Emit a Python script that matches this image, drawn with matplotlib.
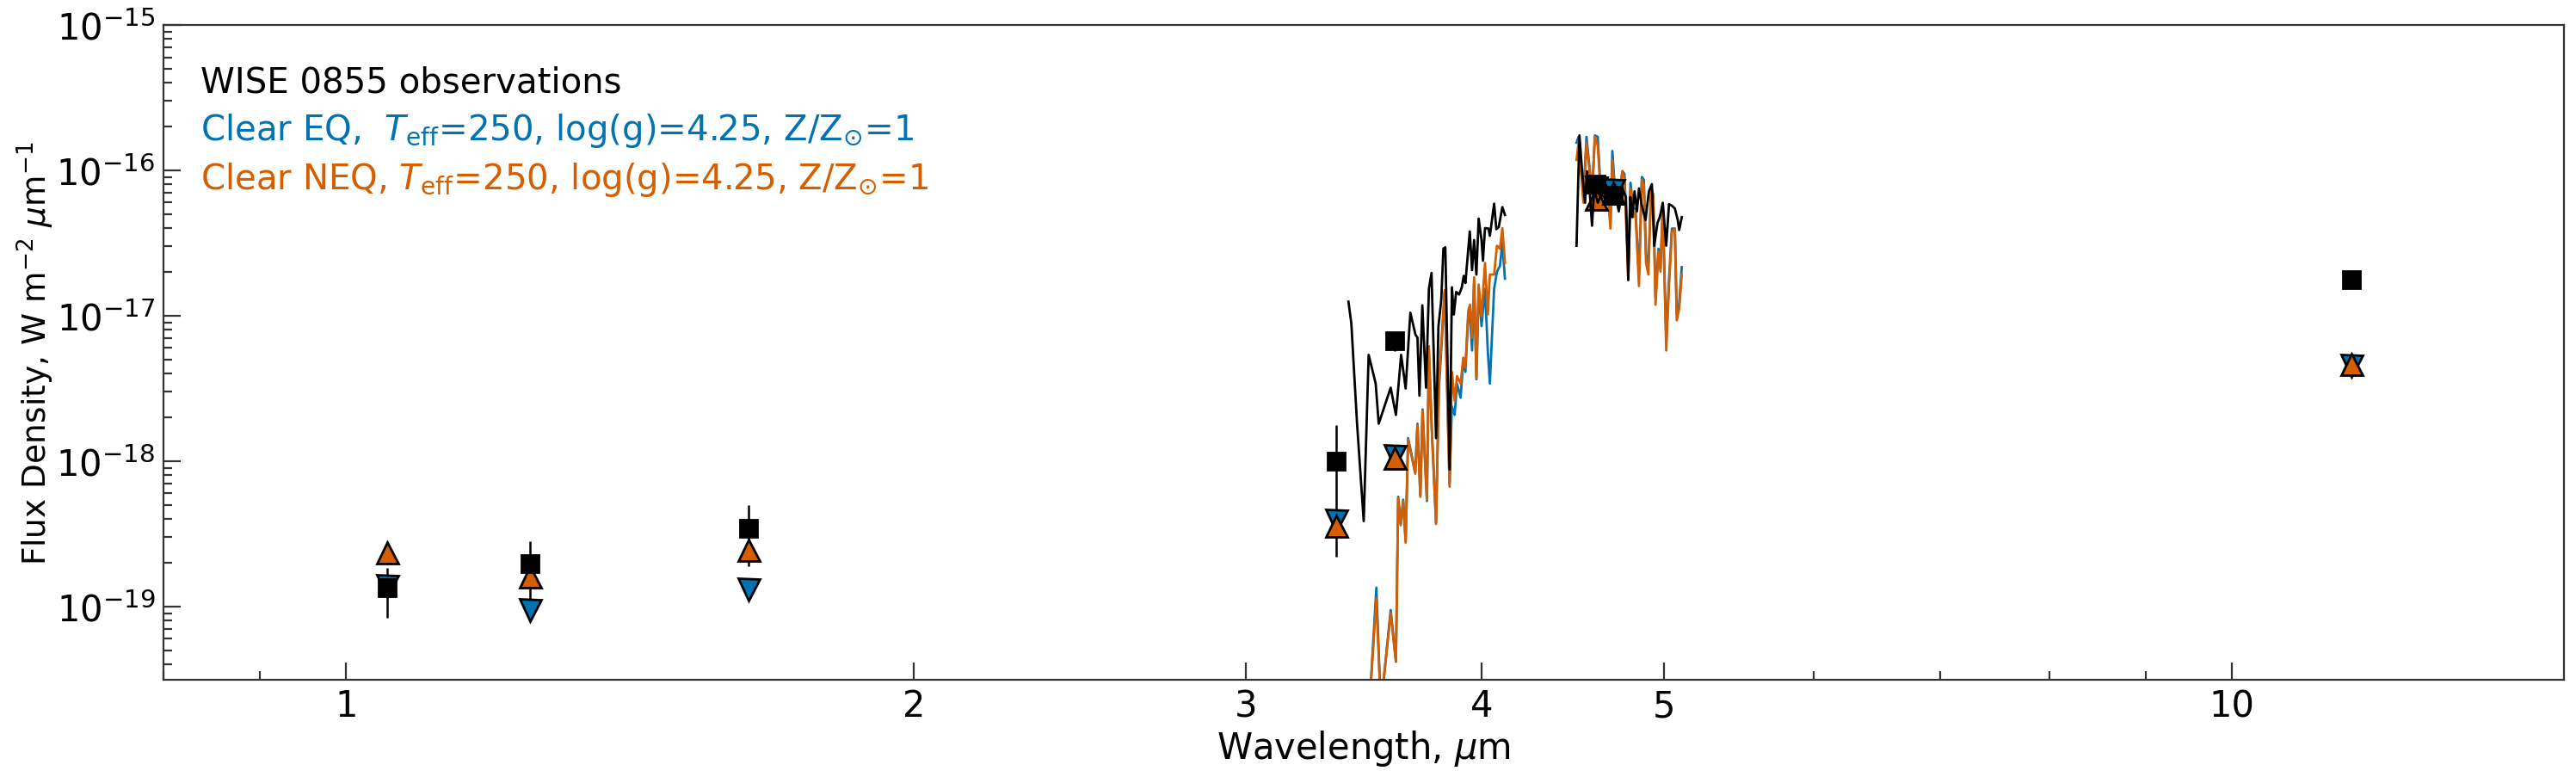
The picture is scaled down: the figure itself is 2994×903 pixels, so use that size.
import matplotlib
matplotlib.use("Agg")
import matplotlib.pyplot as plt
import numpy as np

# photometry: wavelength (micron), observed flux and error, model fluxes
phot_wl = [1.051, 1.252, 1.634, 3.35, 3.596, 4.60, 4.70, 11.57]
obs_flux = [1.34e-19, 1.98e-19, 3.45e-19, 1.0e-18, 6.73e-18, 8.03e-17, 6.74e-17, 1.77e-17]
obs_err = [0.5e-19, 0.85e-19, 1.55e-19, 0.78e-18, 1.0e-18, 4e-18, 3.5e-18, 1.5e-18]
eq_phot = [1.39e-19, 9.4e-20, 1.32e-19, 3.88e-19, 1.08e-18, 7.6e-17, 7.3e-17, 4.52e-18]
neq_phot = [2.36e-19, 1.6e-19, 2.46e-19, 3.59e-19, 1.05e-18, 6.35e-17, 7.06e-17, 4.66e-18]

# observed spectrum, short-wavelength segment
obs_wl1 = [3.400, 3.412, 3.436, 3.464, 3.485, 3.515, 3.528, 3.580, 3.603, 3.626,
           3.646, 3.667, 3.690, 3.699, 3.708, 3.721, 3.738, 3.751, 3.763, 3.784,
           3.795, 3.808, 3.818, 3.827, 3.847, 3.858, 3.867, 3.878, 3.892, 3.905,
           3.914, 3.922, 3.943, 3.954, 3.964, 3.975, 3.986, 4.000, 4.007, 4.017,
           4.034, 4.041, 4.062, 4.073, 4.085, 4.103, 4.116]
obs_fl1 = [1.25e-17, 8.89e-18, 1.81e-18, 3.87e-19, 5.39e-18, 3.42e-18, 1.81e-18, 3.20e-18, 2.08e-18, 5.39e-18,
           3.16e-18, 1.05e-17, 7.41e-18, 7.08e-18, 2.82e-18, 1.18e-17, 3.20e-18, 1.53e-17, 1.97e-17, 1.44e-18,
           8.49e-18, 1.28e-17, 2.89e-17, 2.96e-17, 8.77e-19, 1.57e-17, 1.02e-17, 1.46e-17, 1.40e-17, 1.57e-17,
           1.88e-17, 1.68e-17, 3.80e-17, 2.06e-17, 3.32e-17, 1.92e-17, 4.66e-17, 3.32e-17, 2.39e-17, 4.01e-17,
           3.98e-17, 3.55e-17, 5.90e-17, 3.94e-17, 4.07e-17, 5.59e-17, 4.94e-17]

# observed spectrum, long-wavelength segment
obs_wl2 = [4.492, 4.508, 4.524, 4.539, 4.550, 4.566, 4.578, 4.590, 4.610, 4.631,
           4.655, 4.680, 4.705, 4.730, 4.751, 4.771, 4.785, 4.797, 4.808, 4.822,
           4.836, 4.848, 4.865, 4.887, 4.907, 4.925, 4.939, 4.959, 4.973, 4.991,
           5.012, 5.029, 5.047, 5.065, 5.083, 5.092, 5.108]
obs_fl2 = [3.03e-17, 1.74e-16, 9.43e-17, 5.99e-17, 9.87e-17, 6.86e-17, 4.16e-17, 7.51e-17, 5.99e-17, 6.86e-17,
           6.26e-17, 6.86e-17, 7.51e-17, 5.22e-17, 7.51e-17, 6.55e-17, 1.76e-17, 6.55e-17, 4.77e-17, 7.18e-17,
           5.22e-17, 7.51e-17, 5.72e-17, 4.56e-17, 7.18e-17, 8.04e-17, 3.03e-17, 4.36e-17, 4.77e-17, 5.99e-17,
           3.03e-17, 5.85e-17, 5.72e-17, 5.47e-17, 4.56e-17, 3.89e-17, 4.77e-17]

# model spectra, short-wavelength segment
mod_wl1 = [3.488, 3.518, 3.537, 3.580, 3.603, 3.613, 3.624, 3.635, 3.646, 3.657,
           3.689, 3.699, 3.712, 3.722, 3.742, 3.751, 3.764, 3.784, 3.797, 3.824,
           3.847, 3.858, 3.871, 3.882, 3.899, 3.912, 3.922, 3.936, 3.944, 3.954,
           3.964, 3.975, 3.986, 4.000, 4.017, 4.031, 4.041, 4.062, 4.076, 4.091,
           4.103, 4.116]
eq_fl1 = [2e-20, 1.35e-19, 2e-20, 9.47e-20, 4.18e-20, 5.69e-19, 3.70e-19, 5.44e-19, 2.82e-19, 1.44e-18,
          8.38e-19, 1.81e-18, 5.82e-19, 2.27e-18, 5.32e-19, 5.64e-18, 1.66e-18, 3.78e-19, 3.13e-18, 1.46e-17,
          6.98e-19, 2.38e-18, 2.08e-18, 3.42e-18, 2.73e-18, 4.92e-18, 4.11e-18, 1.02e-17, 1.02e-17, 5.77e-18,
          1.68e-17, 3.66e-18, 1.53e-17, 8.49e-18, 1.53e-17, 5.64e-18, 3.42e-18, 1.53e-17, 2.01e-17, 2.20e-17,
          3.17e-17, 1.80e-17]
neq_fl1 = [2e-20, 1.14e-19, 2e-20, 9.05e-20, 4.18e-20, 5.57e-19, 3.62e-19, 5.32e-19, 2.75e-19, 1.41e-18,
           8.19e-19, 1.77e-18, 5.69e-19, 2.22e-18, 5.44e-19, 6.18e-18, 1.73e-18, 3.70e-19, 3.42e-18, 1.50e-17,
           6.67e-19, 4.11e-18, 2.61e-18, 3.84e-18, 3.42e-18, 5.15e-18, 4.40e-18, 1.09e-17, 1.19e-17, 7.08e-18,
           1.84e-17, 3.75e-18, 1.64e-17, 9.95e-18, 2.31e-17, 1.02e-17, 1.92e-17, 1.92e-17, 3.03e-17, 2.89e-17,
           4.01e-17, 2.31e-17]

# model spectra, long-wavelength segment
mod_wl2 = [4.492, 4.503, 4.519, 4.530, 4.547, 4.566, 4.578, 4.594, 4.610, 4.623,
           4.647, 4.672, 4.682, 4.693, 4.705, 4.730, 4.751, 4.763, 4.785, 4.798,
           4.814, 4.827, 4.848, 4.865, 4.877, 4.890, 4.904, 4.921, 4.933, 4.947,
           4.965, 4.977, 4.991, 5.012, 5.029, 5.047, 5.065, 5.077, 5.092, 5.108]
eq_fl2 = [1.55e-16, 1.70e-16, 9.43e-17, 6.55e-17, 1.70e-16, 9.87e-17, 6.86e-17, 1.74e-16, 1.70e-16, 8.61e-17,
          9.01e-17, 6.55e-17, 4.36e-17, 1.36e-16, 8.23e-17, 6.55e-17, 9.87e-17, 9.43e-17, 2.11e-17, 8.23e-17,
          5.47e-17, 5.47e-17, 1.92e-17, 9.01e-17, 8.61e-17, 2.64e-17, 2.31e-17, 7.51e-17, 6.86e-17, 1.34e-17,
          2.89e-17, 2.11e-17, 5.72e-17, 6.77e-18, 1.76e-17, 3.98e-17, 3.98e-17, 1.02e-17, 1.22e-17, 2.16e-17]
neq_fl2 = [1.18e-16, 1.55e-16, 9.01e-17, 5.99e-17, 1.55e-16, 9.43e-17, 6.86e-17, 1.70e-16, 1.48e-16, 8.23e-17,
           7.86e-17, 5.72e-17, 3.98e-17, 1.18e-16, 7.51e-17, 6.26e-17, 9.87e-17, 8.61e-17, 1.76e-17, 7.51e-17,
           4.77e-17, 5.22e-17, 1.60e-17, 8.61e-17, 7.86e-17, 2.31e-17, 1.92e-17, 7.86e-17, 6.55e-17, 1.19e-17,
           2.77e-17, 2.01e-17, 5.72e-17, 5.77e-18, 1.60e-17, 3.80e-17, 3.98e-17, 9.30e-18, 1.12e-17, 1.92e-17]

x_ticks = [1, 2, 3, 4, 5, 10]

blue = '#0173B2'
orange = '#D55E00'
fs = 15
fs_text = 14.5

plt.rcParams['font.family'] = ['DejaVu Sans']
fig = plt.figure(figsize=(14.97, 4.52), dpi=200)
ax = fig.add_axes([0.0635, 0.1253, 0.9318, 0.8415])

# model spectra
for wl, fl in [(mod_wl1, eq_fl1), (mod_wl2, eq_fl2)]:
    ax.plot(wl, fl, color=blue, lw=1.0, zorder=2)
for wl, fl in [(mod_wl1, neq_fl1), (mod_wl2, neq_fl2)]:
    ax.plot(wl, fl, color=orange, lw=1.0, zorder=2.05)

# model photometry
ax.plot(phot_wl, eq_phot, 'v', ms=9, color=blue, mec='k', mew=1.0, ls='none', zorder=2.2)
ax.plot(phot_wl, neq_phot, '^', ms=9, color=orange, mec='k', mew=1.0, ls='none', zorder=2.3)

# observations
ax.plot(obs_wl1, obs_fl1, color='k', lw=1.0, zorder=2.4)
ax.plot(obs_wl2, obs_fl2, color='k', lw=1.0, zorder=2.4)
ax.errorbar(phot_wl, obs_flux, yerr=obs_err, fmt='none', ecolor='k', elinewidth=0.9, zorder=1.5)
ax.plot(phot_wl, obs_flux, 's', ms=7, color='k', ls='none', zorder=3)

ax.set_xscale('log')
ax.set_yscale('log')
ax.set_xlim(0.8, 15)
ax.set_ylim(3.15e-20, 1e-15)
ax.set_xticks(x_ticks)
ax.set_xticklabels([str(t) for t in x_ticks])
ax.xaxis.set_minor_formatter(matplotlib.ticker.NullFormatter())

for sp in ax.spines.values():
    sp.set_color('0.2')
ax.tick_params(which='both', direction='in', top=False, right=False, colors='0.2',
               labelcolor='k', labelsize=fs)
ax.tick_params(which='major', length=7.2, width=0.8)
ax.tick_params(which='minor', length=3.6, width=0.8)

ax.set_xlabel(r'Wavelength, $\mu$m', fontsize=fs, labelpad=1.5)
ax.set_ylabel(r'Flux Density, W m$^{-2}$ $\mu$m$^{-1}$', fontsize=13.5, labelpad=0)

ax.text(0.0154, 0.8984, 'WISE 0855 observations', color='k', fontsize=fs_text,
        transform=ax.transAxes, va='baseline')
ax.text(0.0154, 0.8248, r'Clear EQ,  $T_{\rm eff}$=250, log(g)=4.25, Z/Z$_{\odot}$=1',
        color=blue, fontsize=fs_text, transform=ax.transAxes, va='baseline')
ax.text(0.0154, 0.7502, r'Clear NEQ, $T_{\rm eff}$=250, log(g)=4.25, Z/Z$_{\odot}$=1',
        color=orange, fontsize=fs_text, transform=ax.transAxes, va='baseline')

fig.savefig('out.png', dpi=200)
